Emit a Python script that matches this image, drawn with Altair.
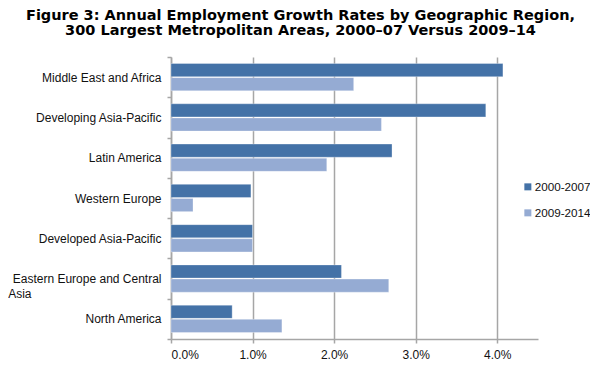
import altair as alt
import pandas as pd

regions = [
    "Middle East and Africa",
    "Developing Asia-Pacific",
    "Latin America",
    "Western Europe",
    "Developed Asia-Pacific",
    "Eastern Europe and Central Asia",
    "North America",
]
growth_2000_07 = [4.07, 3.86, 2.71, 0.98, 1.00, 2.09, 0.75]
growth_2009_14 = [2.24, 2.58, 1.91, 0.27, 1.00, 2.67, 1.36]
series = ["2000-2007", "2009-2014"]
x_ticks = [0, 1, 2, 3, 4]
title_lines = [
    "Figure 3: Annual Employment Growth Rates by Geographic Region,",
    "300 Largest Metropolitan Areas, 2000\u201307 Versus 2009\u201314",
]

rows = []
for r, a, b in zip(regions, growth_2000_07, growth_2009_14):
    rows.append({"region": r, "series": series[0], "value": a})
    rows.append({"region": r, "series": series[1], "value": b})
df = pd.DataFrame(rows)

pad = "\u00a0" * 39 + "\u2060"
label_expr = (
    "datum.value == 'Eastern Europe and Central Asia' ? "
    "['Eastern Europe and Central', 'Asia" + pad + "'] : datum.value"
)

GRAY = "#A6A6A6"
FONT = "Liberation Sans"

chart = (
    alt.Chart(df)
    .mark_bar(stroke="white", strokeOpacity=0.3, strokeWidth=1)
    .encode(
        y=alt.Y(
            "region:N",
            sort=regions,
            scale=alt.Scale(paddingInner=0, paddingOuter=0),
            axis=alt.Axis(
                title=None,
                tickBand="extent",
                labelExpr=label_expr,
                labelFont=FONT,
                labelFontSize=12,
                labelLineHeight=15,
                labelPadding=6,
                labelColor="#111111",
                labelLimit=400,
                tickSize=4,
                tickColor=GRAY,
                tickWidth=1.5,
                domainColor=GRAY,
                domainWidth=1.5,
            ),
        ),
        x=alt.X(
            "value:Q",
            scale=alt.Scale(domain=[0, 4.5], nice=False),
            axis=alt.Axis(
                title=None,
                values=x_ticks,
                labelExpr="format(datum.value, '.1f') + '%'",
                labelFont=FONT,
                labelFontSize=12,
                labelColor="#111111",
                labelPadding=6,
                grid=True,
                gridColor=GRAY,
                gridWidth=1.5,
                tickSize=4,
                tickColor=GRAY,
                tickWidth=1.5,
                domainColor=GRAY,
                domainWidth=1.5,
            ),
        ),
        yOffset=alt.YOffset(
            "series:N",
            sort=series,
            scale=alt.Scale(paddingInner=0.07, paddingOuter=0.46),
        ),
        color=alt.Color(
            "series:N",
            sort=series,
            scale=alt.Scale(domain=series, range=["#4472A7", "#95ABD3"]),
            legend=alt.Legend(
                title=None,
                orient="none",
                legendX=351,
                legendY=124,
                symbolType="square",
                symbolSize=49,
                symbolStrokeWidth=0,
                labelFont=FONT,
                labelFontSize=11.7,
                labelColor="#111111",
                labelOffset=1,
                rowPadding=13,
                padding=0,
            ),
        ),
    )
    .properties(
        width=367,
        height=282,
        title=alt.TitleParams(
            text=title_lines,
            font="DejaVu Sans",
            fontSize=14.5,
            fontWeight="bold",
            color="#000000",
            anchor="middle",
            dx=-54,
            lineHeight=15,
            offset=13,
        ),
        autosize=alt.AutoSizeParams(type="none"),
        padding={"left": 163, "top": 49, "right": 52, "bottom": 30},
        background="white",
    )
    .configure_view(stroke=None)
)

chart.save("out.html", embed_options={"renderer": "svg", "actions": False})
